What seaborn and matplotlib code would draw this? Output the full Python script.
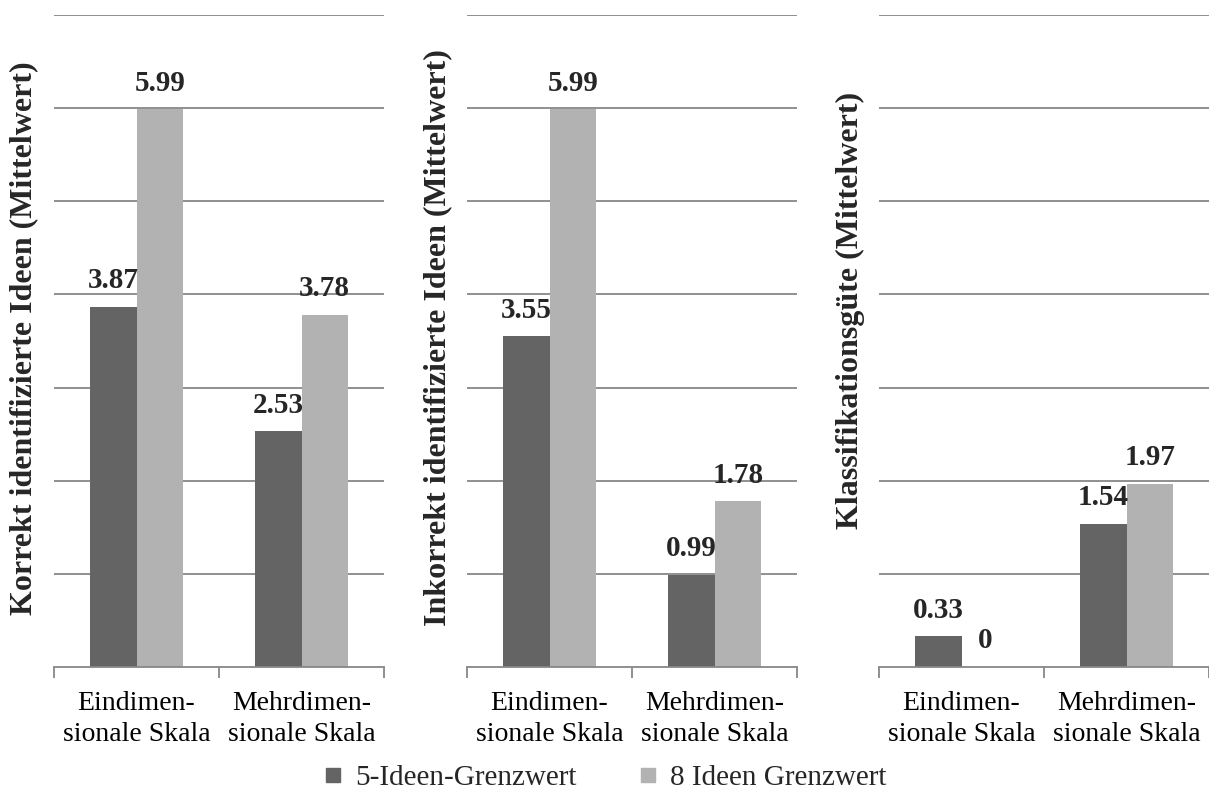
import pandas as pd
import seaborn as sns
import matplotlib.pyplot as plt
from matplotlib.lines import Line2D

categories = ['Eindimen-\nsionale Skala', 'Mehrdimen-\nsionale Skala']
series = ['5-Ideen-Grenzwert', '8 Ideen Grenzwert']
korrekt_5 = [3.87, 2.53]
korrekt_8 = [5.99, 3.78]
inkorrekt_5 = [3.55, 0.99]
inkorrekt_8 = [5.99, 1.78]
guete_5 = [0.33, 1.54]
guete_8 = [0, 1.97]
panel_titles = ['Korrekt identifizierte Ideen (Mittelwert)',
                'Inkorrekt identifizierte Ideen (Mittelwert)',
                'Klassifikationsgüte (Mittelwert)']

colors = ['#646464', '#b2b2b2']
grid_col = '#878787'

sns.set_style('white')
plt.rcParams['font.family'] = 'serif'
plt.rcParams['font.serif'] = ['Liberation Serif', 'DejaVu Serif']


def make_df(v5, v8):
    rows = []
    for c, a, b in zip(categories, v5, v8):
        rows.append({'cat': c, 'series': series[0], 'value': a})
        rows.append({'cat': c, 'series': series[1], 'value': b})
    return pd.DataFrame(rows)


fig = plt.figure(figsize=(12.09, 7.98), dpi=100)
lefts = [54 / 1209, 467 / 1209, 879 / 1209]
ylabel_x = [24 / 1209, 438 / 1209, 850 / 1209]
ylabel_y = [1 - 338 / 798, 1 - 338 / 798, 1 - 310 / 798]
panel_data = [(korrekt_5, korrekt_8), (inkorrekt_5, inkorrekt_8), (guete_5, guete_8)]

for i, (v5, v8) in enumerate(panel_data):
    ax = fig.add_axes([lefts[i], 1 - 667 / 798, 330 / 1209, 652 / 798])
    df = make_df(v5, v8)
    sns.barplot(data=df, x='cat', y='value', hue='series', palette=colors,
                width=0.565, ax=ax, legend=False, saturation=1, errorbar=None,
                linewidth=0, edgecolor='none')
    for cont in ax.containers:
        ax.bar_label(cont, fmt='%g', padding=9, fontsize=21, fontweight='bold')
    ax.set_ylim(0, 7)
    ax.set_xlim(-0.5, 1.5)
    ax.set_yticks(range(1, 8))
    ax.yaxis.grid(True, color=grid_col, linewidth=1.3)
    ax.set_axisbelow(True)
    ax.tick_params(axis='y', left=False, labelleft=False)
    ax.tick_params(axis='x', which='major', length=0, labelsize=20, pad=17,
                   colors='black')
    for lab in ax.get_xticklabels():
        lab.set_linespacing(1.35)
    ax.set_xticks([-0.5, 0.5, 1.5], minor=True)
    ax.tick_params(axis='x', which='minor', length=8, width=1.3, color=grid_col,
                   bottom=True, direction='out')
    for s in ['top', 'right', 'left']:
        ax.spines[s].set_visible(False)
    ax.spines['bottom'].set_color(grid_col)
    ax.spines['bottom'].set_linewidth(1.3)
    ax.set_xlabel('')
    ax.set_ylabel('')
    fig.text(ylabel_x[i], ylabel_y[i], panel_titles[i],
             rotation=90, ha='center', va='center', fontsize=23, fontweight='bold')

handles = [Line2D([], [], marker='s', linestyle='', markersize=10.5,
                  markerfacecolor=c, markeredgecolor=c) for c in colors]
fig.legend(handles, series, loc='center', bbox_to_anchor=(0.5, 1 - 778 / 798),
           ncol=2, frameon=False, fontsize=21, handlelength=0.7,
           handletextpad=0.4, columnspacing=2.1)

fig.savefig('out.png', dpi=100)
